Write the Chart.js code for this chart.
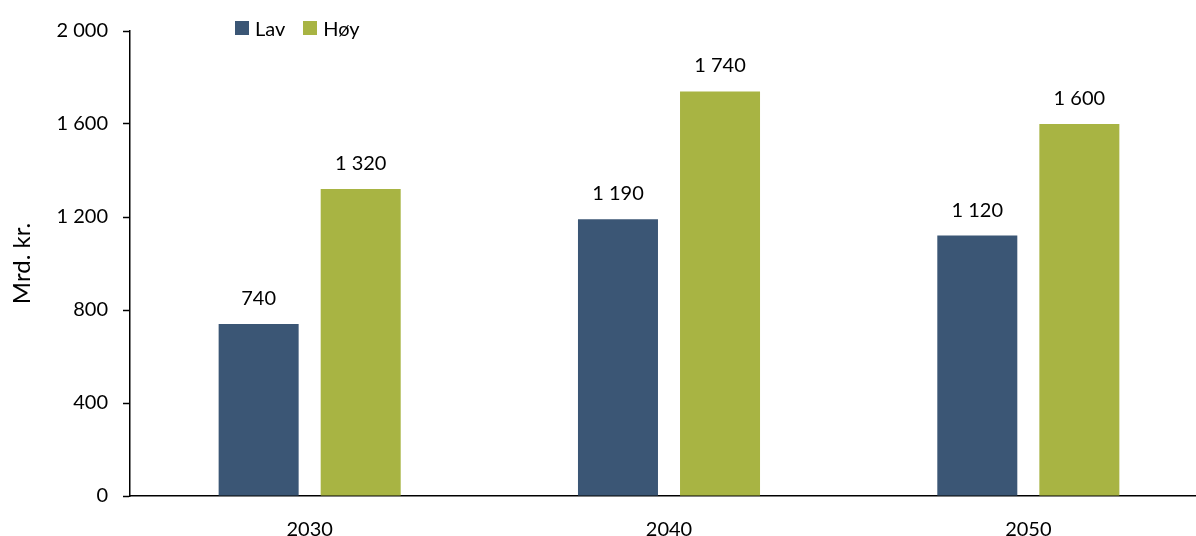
<!DOCTYPE html>
<html>
<head>
<meta charset="utf-8">
<script src="https://cdn.jsdelivr.net/npm/chart.js@4.4.1/dist/chart.umd.min.js"></script>
<style>
  html, body { margin: 0; padding: 0; background: #fff; overflow: hidden; }
  #wrap { position: relative; width: 1208px; height: 536px; }
  #legend { position: absolute; left: 235px; top: 16px; display: flex; font: 20px Lato, sans-serif; color: #000; }
  .item { display: flex; align-items: center; margin-right: 18px; }
  .box { width: 14px; height: 14px; margin-right: 6px; }
</style>
</head>
<body>
<div id="wrap">
  <canvas id="chart" width="1208" height="536"></canvas>
  <div id="legend"></div>
</div>
<script>
// data
const years = ['2030', '2040', '2050'];
const lav = [740, 1190, 1120];
const hoy = [1320, 1740, 1600];
const seriesNames = ['Lav', 'Høy'];
const seriesColors = ['#3b5675', '#a8b443'];

const fmt = v => String(v).replace(/\B(?=(\d{3})+(?!\d))/g, ' ');

// value labels above each bar
const valueLabels = {
    id: 'valueLabels',
    afterDatasetsDraw(chart) {
        const ctx = chart.ctx;
        ctx.save();
        ctx.font = '20px Lato';
        ctx.fillStyle = '#000';
        ctx.textAlign = 'center';
        ctx.textBaseline = 'alphabetic';
        chart.data.datasets.forEach((ds, i) => {
            chart.getDatasetMeta(i).data.forEach((bar, j) => {
                ctx.fillText(fmt(ds.data[j]), bar.x, bar.y - 19);
            });
        });
        ctx.restore();
    }
};

const datasets = [lav, hoy].map((data, i) => ({
    label: seriesNames[i],
    data,
    backgroundColor: seriesColors[i],
    borderWidth: 0,
    categoryPercentage: 0.568,
    barPercentage: 0.784
}));

// html legend
const legendEl = document.getElementById('legend');
seriesNames.forEach((name, i) => {
    const item = document.createElement('div');
    item.className = 'item';
    item.innerHTML = `<span class="box" style="background:${seriesColors[i]}"></span><span>${name}</span>`;
    legendEl.appendChild(item);
});

const ctx = document.getElementById('chart').getContext('2d');
new Chart(ctx, {
    type: 'bar',
    data: { labels: years, datasets },
    options: {
        responsive: false,
        animation: false,
        layout: { padding: { top: 31, left: 0, right: 0, bottom: 0 } },
        scales: {
            x: {
                grid: { display: false },
                border: { display: true, color: '#000', width: 1.5 },
                ticks: { color: '#000', font: { family: 'Lato', size: 20 }, padding: 14 },
                afterFit: scale => { scale.height = 40; }
            },
            y: {
                min: 0,
                max: 2000,
                ticks: {
                    stepSize: 400,
                    color: '#000',
                    font: { family: 'Lato', size: 20 },
                    padding: 15,
                    callback: v => fmt(v)
                },
                grid: { drawOnChartArea: false, drawTicks: true, tickLength: 7, tickColor: '#000', tickWidth: 1.5 },
                border: { display: true, color: '#000', width: 1.5 },
                title: {
                    display: true,
                    text: 'Mrd. kr.',
                    color: '#000',
                    font: { family: 'Lato', size: 24 },
                    padding: { top: 8, bottom: 0 }
                },
                afterFit: scale => { scale.width = 130; }
            }
        },
        plugins: {
            legend: { display: false },
            tooltip: { enabled: false }
        }
    },
    plugins: [valueLabels]
});
</script>
</body>
</html>
